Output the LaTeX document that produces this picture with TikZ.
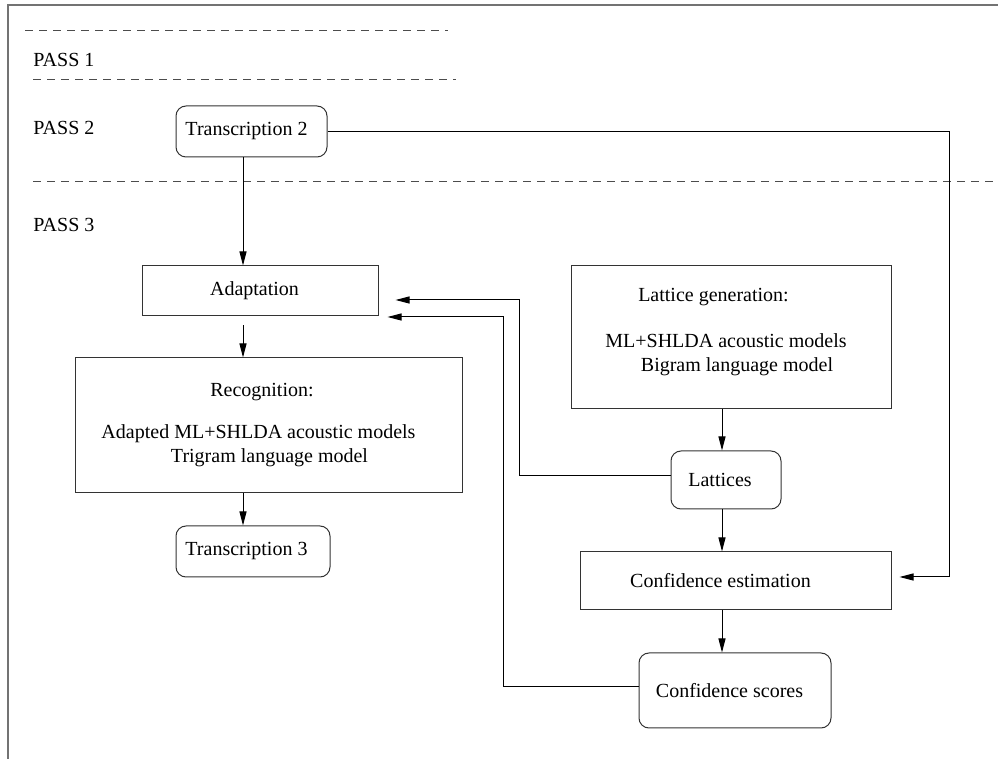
\documentclass[tikz,border=0pt]{standalone}
\usepackage{fontspec}
\setmainfont{Liberation Serif}
\usetikzlibrary{arrows.meta,calc}

\begin{document}
\begin{tikzpicture}[
    x=0.5pt, y=-0.5pt,
    font=\fontsize{10}{12}\selectfont,
    box/.style={rectangle, draw=black!80, line width=0.5pt, inner sep=2pt, align=center},
    rbox/.style={box, rounded corners=5pt},
    arr/.style={draw, line width=0.5pt, -{Triangle[length=7pt,width=3.5pt]}},
    sep/.style={draw=black!70, line width=0.5pt, dash pattern=on 4pt off 3pt},
    pass/.style={anchor=west, inner sep=0pt}
]

\useasboundingbox (0,0) rectangle (998,759);
\draw[black!55, line width=0.7pt] (8,759) -- (8,5) -- (998,5);

% pass separators
\draw[sep] (25,31) -- (448,31);
\draw[sep] (33,80) -- (456,80);
\draw[sep] (33,182) -- (998,182);

\node[pass] (p1) at (33,60) {PASS 1};
\node[pass] (p2) at (33,128) {PASS 2};
\node[pass] (p3) at (33,225) {PASS 3};

\coordinate (colL) at (243,0);
\coordinate (colR) at (722,0);

\node[rbox, minimum width=75.5pt, minimum height=25.5pt] (t2) at (251.5,131.5) {\hspace*{-5pt}Transcription 2};
\node[box, minimum width=118pt, minimum height=25pt] (adapt) at (260,291) {\hspace*{-5.5pt}Adaptation};
\node[box, minimum width=193.5pt, minimum height=67.5pt] (rec) at (268.5,425.5)
    {\hspace*{-6.5pt}Recognition:\\[9pt] \hspace*{-10pt}Adapted ML+SHLDA acoustic models\\ \hspace*{1pt}Trigram language model};
\node[rbox, minimum width=77pt, minimum height=25.5pt] (t3) at (253,551.5) {\hspace*{-6.5pt}Transcription 3};

\node[box, minimum width=160pt, minimum height=71.5pt] (latgen) at (731,337.5)
    {\hspace*{-17.5pt}Lattice generation:\\[11pt] \hspace*{-5pt}ML+SHLDA acoustic models\\ \hspace*{6pt}Bigram language model\\[-4pt]};
\node[rbox, minimum width=55pt, minimum height=29pt] (lat) at (726,480) {\hspace*{-6pt}Lattices};
\node[box, minimum width=155.5pt, minimum height=29pt] (ce) at (735.5,581) {\hspace*{-15pt}Confidence estimation};
\node[rbox, minimum width=96pt, minimum height=37.5pt] (cs) at (735,690.5) {\hspace*{-5.5pt}Confidence scores};

% main flow
\draw[arr] (t2.south -| colL) -- (adapt.north -| colL);
\draw[arr, shorten <=4.5pt] (adapt.south -| colL) -- (rec.north -| colL);
\draw[arr] (rec.south -| colL) -- (t3.north -| colL);
\draw[arr] (latgen.south -| colR) -- (lat.north -| colR);
\draw[arr] (lat.south -| colR) -- (ce.north -| colR);
\draw[arr] (ce.south -| colR) -- (cs.north -| colR);

% feedback
\draw[arr, shorten >=8.5pt] ($(lat.west)+(0,-4)$) -- ++(-151,0) |- ($(adapt.east)+(0,9)$);
\draw[arr, shorten >=4.5pt] ($(cs.west)+(0,-4)$) -- ++(-135,0) |- ($(adapt.east)+(0,26)$);
\draw[arr, shorten >=4pt] (t2.east) -- ++(622,0) |- ($(ce.east)+(0,-4)$);

\end{tikzpicture}
\end{document}
